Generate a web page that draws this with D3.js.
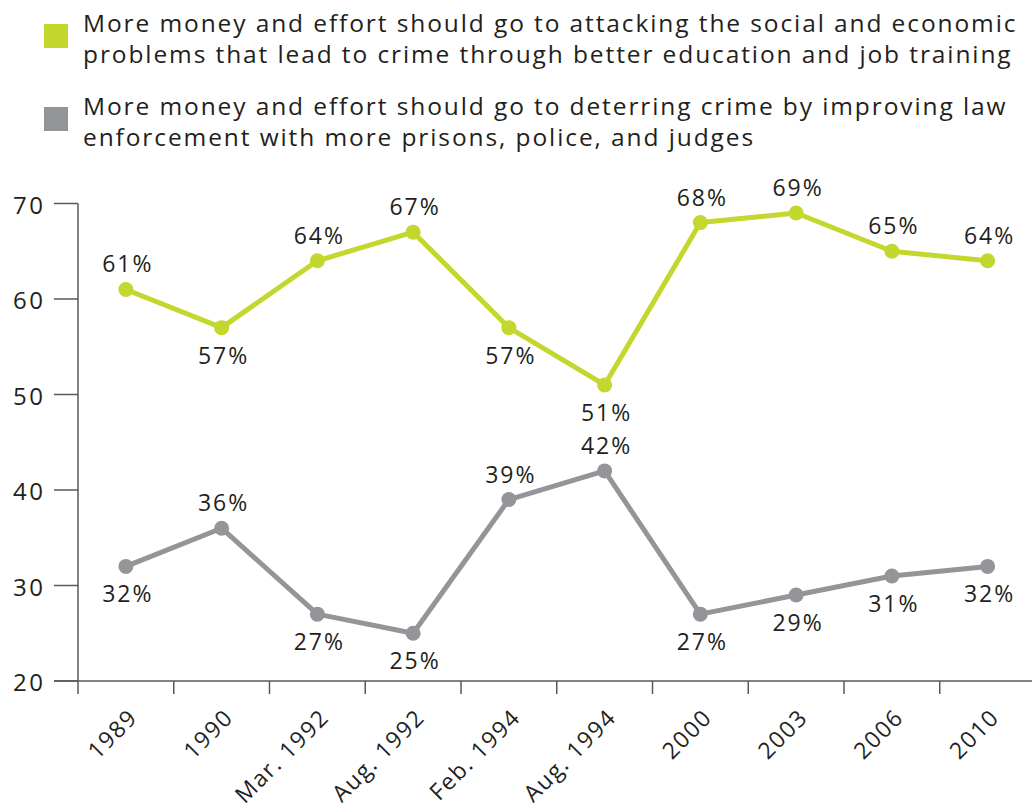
<!DOCTYPE html>
<meta charset="utf-8">
<style>
  body { margin: 0; background: #fff; }
  text { font-family: "Open Sans", sans-serif; fill: #231f20; }
</style>
<body>
<script src="https://cdn.jsdelivr.net/npm/d3@7"></script>
<script>

// values
var periods = ["1989", "1990", "Mar. 1992", "Aug. 1992", "Feb. 1994",
               "Aug. 1994", "2000", "2003", "2006", "2010"];
var socialVals = [61, 57, 64, 67, 57, 51, 68, 69, 65, 64];
var deterVals  = [32, 36, 27, 25, 39, 42, 27, 29, 31, 32];
// where the % label sits: 1 = above the point, -1 = below
var socialSide = [1, -1, 1, 1, -1, -1, 1, 1, 1, 1];
var deterSide  = [-1, 1, -1, -1, 1, 1, -1, -1, -1, -1];
var yTicks = [20, 30, 40, 50, 60, 70];

var legendLines = [
  ["More money and effort should go to attacking the social and economic",
   "problems that lead to crime through better education and job training"],
  ["More money and effort should go to deterring crime by improving law",
   "enforcement with more prisons, police, and judges"]
];

const width = 1032, height = 811;
const green = "#c3d72f", gray = "#949599", axisCol = "#58595b";

var series = [
  { name: "social", vals: socialVals, side: socialSide, color: green },
  { name: "deter",  vals: deterVals,  side: deterSide,  color: gray }
];

var svg = d3.select("body").append("svg")
  .attr("width", width)
  .attr("height", height);

var x = d3.scaleBand().domain(periods).range([78, 78 + 95.75 * periods.length]);
var y = d3.scaleLinear().domain([20, 70]).range([681, 203.5]);

// legend
var leg = svg.append("g");
series.forEach(function(s, i) {
  var top = [24, 107][i];
  leg.append("rect")
    .attr("x", 44).attr("y", top)
    .attr("width", 24).attr("height", 24)
    .attr("fill", s.color);
  leg.selectAll(".l" + i)
    .data(legendLines[i])
    .enter().append("text")
    .attr("x", 83)
    .attr("y", (d, j) => top + 8 + j * 30.5)
    .style("font-size", "24.5px")
    .style("letter-spacing", "1.9px")
    .text(d => d);
});

// y axis
var gy = svg.append("g");
gy.append("line")
  .attr("x1", 78).attr("x2", 78)
  .attr("y1", y(70)).attr("y2", y(20))
  .attr("stroke", axisCol).attr("stroke-width", 1.5);
gy.selectAll(".ytick").data(yTicks).enter().append("line")
  .attr("x1", 54).attr("x2", 78)
  .attr("y1", d => y(d)).attr("y2", d => y(d))
  .attr("stroke", axisCol).attr("stroke-width", 1.5);
gy.selectAll(".ylab").data(yTicks).enter().append("text")
  .attr("x", 45.5)
  .attr("y", d => y(d) + 10)
  .attr("text-anchor", "end")
  .style("font-size", "24px")
  .style("letter-spacing", "2.5px")
  .text(d => d);

// x axis
var gx = svg.append("g");
gx.append("line")
  .attr("x1", 54).attr("x2", width)
  .attr("y1", y(20)).attr("y2", y(20))
  .attr("stroke", axisCol).attr("stroke-width", 1.5);
gx.selectAll(".xtick").data(periods.concat(["end"])).enter().append("line")
  .attr("x1", (d, i) => 78 + i * x.step()).attr("x2", (d, i) => 78 + i * x.step())
  .attr("y1", y(20)).attr("y2", y(20) + 13)
  .attr("stroke", axisCol).attr("stroke-width", 1.5);
gx.selectAll(".xlab").data(periods).enter().append("text")
  .attr("text-anchor", "end")
  .attr("transform", d => `translate(${x(d) + x.bandwidth() / 2 + 13},${719}) rotate(-45)`)
  .style("font-size", "23px")
  .style("letter-spacing", "1.5px")
  .text(d => d);

// lines, dots, labels
var line = d3.line()
  .x((d, i) => x(periods[i]) + x.bandwidth() / 2)
  .y(d => y(d));

series.forEach(function(s) {
  var g = svg.append("g");
  g.append("path")
    .datum(s.vals)
    .attr("d", line)
    .attr("fill", "none")
    .attr("stroke", s.color)
    .attr("stroke-width", 5)
    .attr("stroke-linejoin", "round");
  g.selectAll("circle").data(s.vals).enter().append("circle")
    .attr("cx", (d, i) => x(periods[i]) + x.bandwidth() / 2)
    .attr("cy", d => y(d))
    .attr("r", 7.5)
    .attr("fill", s.color);
  g.selectAll("text").data(s.vals).enter().append("text")
    .attr("x", (d, i) => x(periods[i]) + x.bandwidth() / 2 + 2)
    .attr("y", (d, i) => y(d) + (s.side[i] > 0 ? -17 : 36))
    .attr("text-anchor", "middle")
    .style("font-size", "23px")
    .style("letter-spacing", "2px")
    .text(d => d + "%");
});

</script>
</body>
